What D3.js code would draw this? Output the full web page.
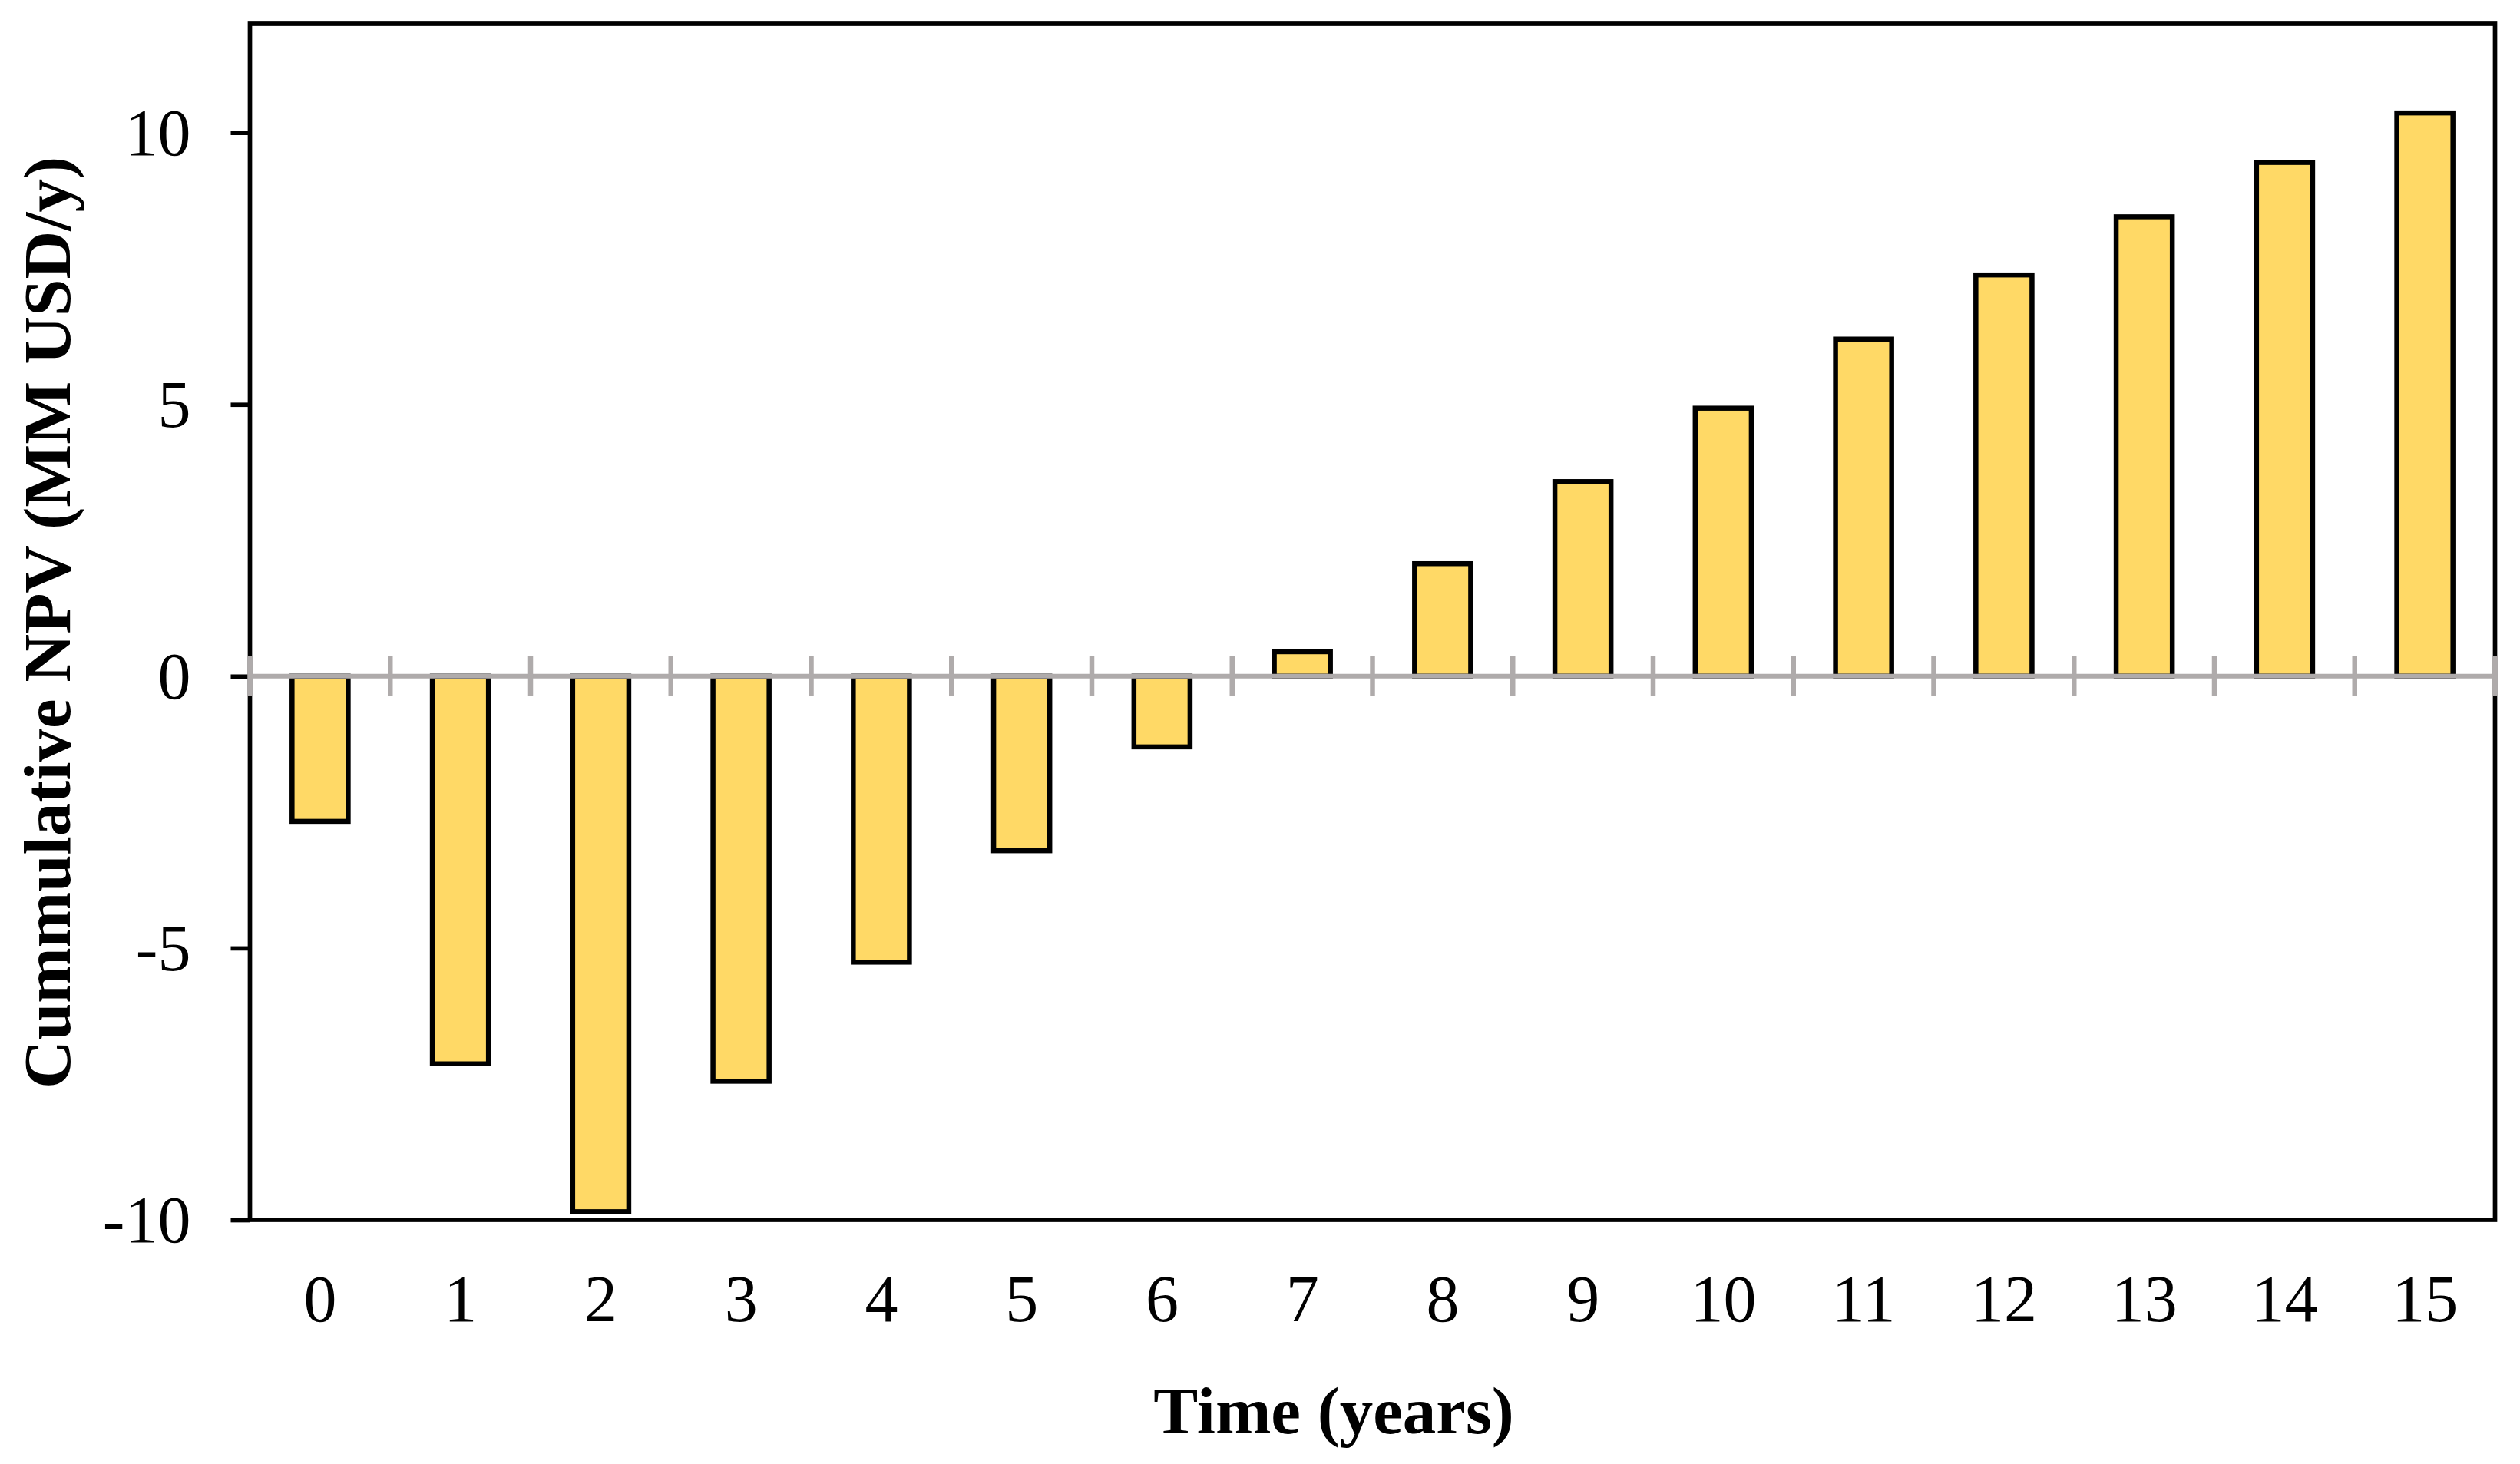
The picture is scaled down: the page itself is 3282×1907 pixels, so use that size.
<!DOCTYPE html>
<html>
<head>
<meta charset="utf-8">
<script src="https://cdn.jsdelivr.net/npm/d3@7"></script>
<style>
  html, body { margin: 0; padding: 0; background: #fff; }
  svg { display: block; }
</style>
</head>
<body>
<svg id="chart" width="3282" height="1907"></svg>
<script>
const years = ["0","1","2","3","4","5","6","7","8","9","10","11","12","13","14","15"];
const npv = [-2.67, -7.13, -9.85, -7.45, -5.26, -3.21, -1.30, 0.45, 2.07, 3.58, 4.93, 6.20, 7.38, 8.45, 9.45, 10.36];
const yTicks = [-10, -5, 0, 5, 10];
const yDomain = [-10, 12];
const xTitle = "Time (years)";
const yTitle = "Cummulative NPV (MM USD/y)";

(function () {
const svg = d3.select("#chart");
const pLeft = 325.5, pRight = 3249.5, pTop = 31, pBottom = 1589;
const font = "'Liberation Serif', 'Times New Roman', serif";

const x = d3.scaleBand().domain(years).range([pLeft, pRight]).paddingInner(0.6).paddingOuter(0.3);
const y = d3.scaleLinear().domain(yDomain).range([pBottom, pTop]);

// bars
svg.append("g").selectAll("rect").data(npv).join("rect")
  .attr("x", (d, i) => x(years[i]))
  .attr("width", x.bandwidth())
  .attr("y", d => y(Math.max(0, d)))
  .attr("height", d => Math.abs(y(d) - y(0)))
  .attr("fill", "#FFD966")
  .attr("stroke", "#000")
  .attr("stroke-width", 6.5);

// frame
svg.append("rect")
  .attr("x", pLeft).attr("y", pTop)
  .attr("width", pRight - pLeft).attr("height", pBottom - pTop)
  .attr("fill", "none").attr("stroke", "#000").attr("stroke-width", 5.7);

// y axis ticks + labels
const yAxis = svg.append("g").attr("transform", `translate(${pLeft},0)`)
  .call(d3.axisLeft(y).tickValues(yTicks).tickSize(25).tickPadding(52).tickFormat(d => String(d)));
yAxis.select(".domain").remove();
yAxis.selectAll(".tick line").attr("stroke", "#000").attr("stroke-width", 5.7);
yAxis.selectAll(".tick text")
  .attr("font-family", font).attr("font-size", 86).attr("fill", "#000")
  .attr("dy", "0.33em");

// zero line with category boundary ticks (grey)
const zeroG = svg.append("g");
zeroG.append("line")
  .attr("x1", pLeft).attr("x2", pRight)
  .attr("y1", y(0)).attr("y2", y(0))
  .attr("stroke", "#AFABAB").attr("stroke-width", 6);
const boundaries = years.map((c, i) => pLeft + i * x.step());
boundaries.push(pRight);
zeroG.selectAll("line.bt").data(boundaries).join("line")
  .attr("class", "bt")
  .attr("x1", d => d).attr("x2", d => d)
  .attr("y1", y(0) - 26).attr("y2", y(0) + 26)
  .attr("stroke", "#AFABAB").attr("stroke-width", 6.5);

// x labels
const xAxis = svg.append("g").attr("transform", `translate(0,${pBottom})`)
  .call(d3.axisBottom(x).tickSize(0).tickPadding(0));
xAxis.select(".domain").remove();
xAxis.selectAll(".tick text")
  .attr("font-family", font).attr("font-size", 86).attr("fill", "#000")
  .attr("dy", null).attr("y", 132);

// axis titles
svg.append("text")
  .attr("x", 1737).attr("y", 1867)
  .attr("text-anchor", "middle")
  .attr("font-family", font).attr("font-size", 87).attr("font-weight", "bold")
  .text(xTitle);

svg.append("text")
  .attr("transform", `translate(91,811) rotate(-90)`)
  .attr("text-anchor", "middle")
  .attr("font-family", font).attr("font-size", 87).attr("font-weight", "bold")
  .text(yTitle);
})();
</script>
</body>
</html>
